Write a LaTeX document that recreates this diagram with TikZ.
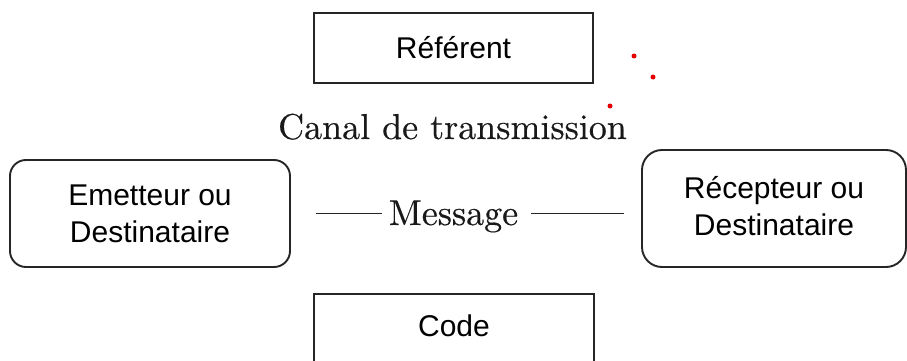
\documentclass[tikz,border=0pt]{standalone}
\usepackage{fontspec}
\newfontfamily\arialf{Liberation Sans}
\newfontfamily\lmten{lmroman10-regular.otf}[FakeBold=0.4]
\begin{document}
\begin{tikzpicture}[x=1pt,y=-1pt,
  box/.style={draw=black!85,line width=1.9pt,inner sep=0pt},
  sansbig/.style={font=\arialf\fontsize{30}{37}\selectfont,align=center,text=black},
  serifbig/.style={font=\lmten\fontsize{36}{40}\selectfont,inner sep=0pt,anchor=base,text=black!90},
  conn/.style={draw=black!85,line width=1.9pt},
  reddot/.style={circle,fill=red!90!black,inner sep=0pt,minimum size=5pt}]
\clip (0,0) rectangle (907,361);
\fill[white] (0,0) rectangle (907,361);
% square boxes
\node[box,minimum width=279pt,minimum height=70pt] (ref) at (453.5,48) {};
\node[sansbig] (reft) at (ref.center) {Référent};
\node[box,minimum width=280pt,minimum height=100pt] (code) at (454,344) {};
\node[sansbig,anchor=base] (codet) at (454,336) {Code};
% rounded boxes
\node[box,rounded corners=16pt,minimum width=280pt,minimum height=107pt] (emit) at (150,213.5) {};
\node[sansbig] (emitt) at (emit.center) {Emetteur ou\\Destinataire};
\node[box,rounded corners=20pt,minimum width=264pt,minimum height=117pt] (recv) at (774,208.5) {};
\node[sansbig] (recvt) at ([yshift=2pt]recv.center) {Récepteur ou\\Destinataire};
% serif labels
\node[serifbig] (canal) at (452.5,139) {Canal de transmission};
\node[serifbig] (msg) at (453.5,225) {Message};
% connectors
\draw[conn,shorten <=25pt,shorten >=7pt] (emit.east) -- (emit.east -| msg.west);
\draw[conn,shorten <=13pt,shorten >=17pt] (emit.east -| msg.east) -- (emit.east -| recv.west);
% red dots
\node[reddot] (d1) at (634,56) {};
\node[reddot] (d2) at (653,77) {};
\node[reddot] (d3) at (610,106) {};
\end{tikzpicture}
\end{document}
